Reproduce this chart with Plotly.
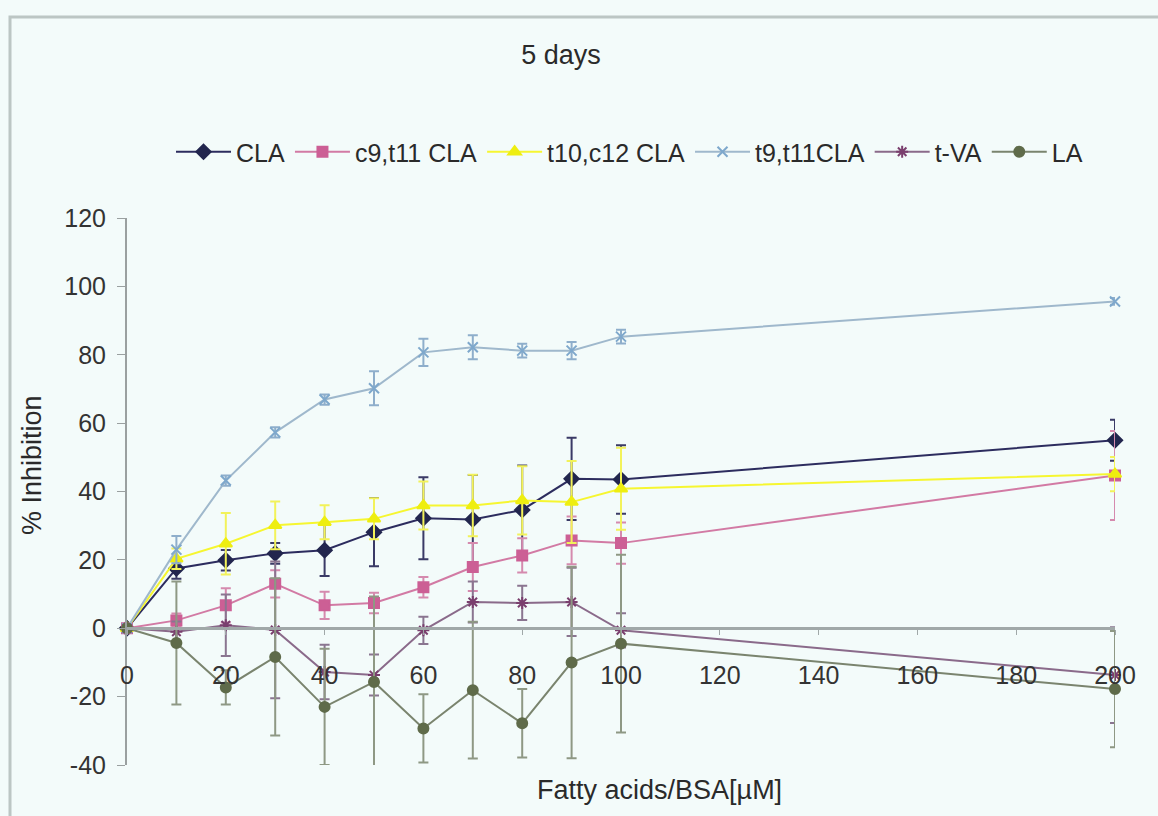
import plotly.graph_objects as go

conc = [0, 10, 20, 30, 40, 50, 60, 70, 80, 90, 100, 200]

cla = [0, 17.5, 19.9, 21.9, 22.8, 28.1, 32.2, 31.8, 34.6, 43.7, 43.5, 55.0]
cla_err = [0, 3, 3, 3, 7.5, 10, 12, 13, 13, 12, 10, 6]
c9t11 = [0, 2.3, 6.7, 13.0, 6.7, 7.4, 12.0, 17.9, 21.3, 25.7, 24.9, 44.7]
c9t11_err = [0, 2, 5, 4, 4, 3, 3, 7, 5, 7, 6, 13]
t10c12 = [0, 20.3, 24.7, 30.1, 31.0, 32.0, 35.9, 35.9, 37.4, 36.9, 40.8, 45.1]
t10c12_err = [0, 3, 9, 7, 5, 6, 7, 9, 10, 12, 12, 5]
t9t11 = [0, 23.0, 43.2, 57.3, 66.9, 70.2, 80.7, 82.2, 81.2, 81.2, 85.3, 95.6]
t9t11_err = [0, 4, 1.5, 1.5, 1.5, 5, 4, 3.5, 2, 2.5, 2, 1]
tva = [0, -1.0, 0.9, -0.5, -12.8, -13.7, -0.6, 7.7, 7.4, 7.7, -0.6, -13.7]
tva_err = [0, 3, 9, 20, 8, 6, 4, 6, 5, 10, 5, 14]
la = [0, -4.3, -17.3, -8.4, -23.0, -15.7, -29.3, -18.1, -27.8, -10.0, -4.5, -17.8]
la_err = [0, 18, 5, 23, 17, 25, 10, 20, 10, 28, 26, 17]

x_ticks = [0, 20, 40, 60, 80, 100, 120, 140, 160, 180, 200]
y_ticks = [-40, -20, 0, 20, 40, 60, 80, 100, 120]
y_tick_text = ["-40", "-20", "0", "20", "40", "60", "80", "100", "120"]

names = ["CLA", "c9,t11 CLA", "t10,c12 CLA", "t9,t11CLA", "t-VA", "LA"]
values = [cla, c9t11, t10c12, t9t11, tva, la]
errors = [cla_err, c9t11_err, t10c12_err, t9t11_err, tva_err, la_err]
line_colors = ["#2c2c5e", "#d27aa4", "#f6f630", "#9fb8cc", "#8a6a8a", "#7a846e"]
marker_colors = ["#22264e", "#cc5f95", "#eeee10", "#7ea8cc", "#7a3f6e", "#5f6b4a"]
err_colors = ["#3a3a66", "#d58aae", "#f2f25a", "#8eaecb", "#8a7590", "#8e9884"]
symbols = ["diamond", "square", "triangle-up", "x-thin-open", "asterisk-open", "circle"]
sizes = [11, 10, 11, 10, 10, 10]

FONT = "Liberation Sans, Arial, sans-serif"

fig = go.Figure()
for n, v, e, lc, mc, ec, s, sz in zip(names, values, errors, line_colors, marker_colors,
                                      err_colors, symbols, sizes):
    fig.add_trace(go.Scatter(
        x=conc, y=v, name=n, mode="lines+markers",
        line=dict(color=lc, width=2),
        marker=dict(symbol=s, size=sz, color=mc, line=dict(color=mc, width=2)),
        error_y=dict(type="data", array=e, visible=True, color=ec, thickness=2, width=5),
        cliponaxis=False,
    ))

W, H = 1158, 816
L, R, T, B = 127, 43, 218, 51
pw, ph = W - L - R, H - T - B

fig.update_layout(
    width=W, height=H,
    margin=dict(l=L, r=R, t=T, b=B),
    paper_bgcolor="#f3fbfa", plot_bgcolor="#f3fbfa",
    font=dict(family=FONT, size=25, color="#333333"),
    title=dict(text="5 days", x=561 / W, xref="container", y=1 - 55 / H, yref="container",
               xanchor="center", yanchor="middle", font=dict(size=27, color="#2a2a2a")),
    showlegend=True,
    legend=dict(orientation="h", x=171 / W, xref="container", y=1 - 152 / H, yref="container",
                xanchor="left", yanchor="middle", bgcolor="rgba(0,0,0,0)",
                font=dict(size=25, color="#2a2a2a"), itemwidth=55, tracegroupgap=0),
    xaxis=dict(range=[0, 200], tickvals=x_ticks,
               anchor="free", position=0.25, showgrid=False, zeroline=False,
               showline=True, linecolor="#a0a8a8", linewidth=3,
               ticks="outside", ticklen=5, tickcolor="#a0a8a8",
               ticklabelstandoff=19, tickfont=dict(size=25, color="#333333")),
    yaxis=dict(range=[-40, 120], tickvals=y_ticks, ticktext=y_tick_text,
               showgrid=False, zeroline=False, showline=True, linecolor="#9aa0a0", linewidth=2,
               ticks="outside", ticklen=8, tickcolor="#9aa0a0",
               ticklabelstandoff=6, tickfont=dict(size=25, color="#333333")),
)

fig.add_annotation(text="% Inhibition", textangle=-90, xref="paper", yref="paper",
                   x=(32 - L) / pw, y=(765 - 465) / ph, xanchor="center", yanchor="middle",
                   showarrow=False, font=dict(size=27, color="#2a2a2a"))
fig.add_annotation(text="Fatty acids/BSA[\u00b5M]", xref="paper", yref="paper",
                   x=(659 - L) / pw, y=(765 - 790) / ph, xanchor="center", yanchor="middle",
                   showarrow=False, font=dict(size=27, color="#2a2a2a"))

fig.add_shape(type="rect", xref="paper", yref="paper",
              x0=(10 - L) / pw, x1=2, y0=-2, y1=(765 - 17) / ph,
              line=dict(color="#bcc6c4", width=3), layer="below")

fig.write_html("out.html")
